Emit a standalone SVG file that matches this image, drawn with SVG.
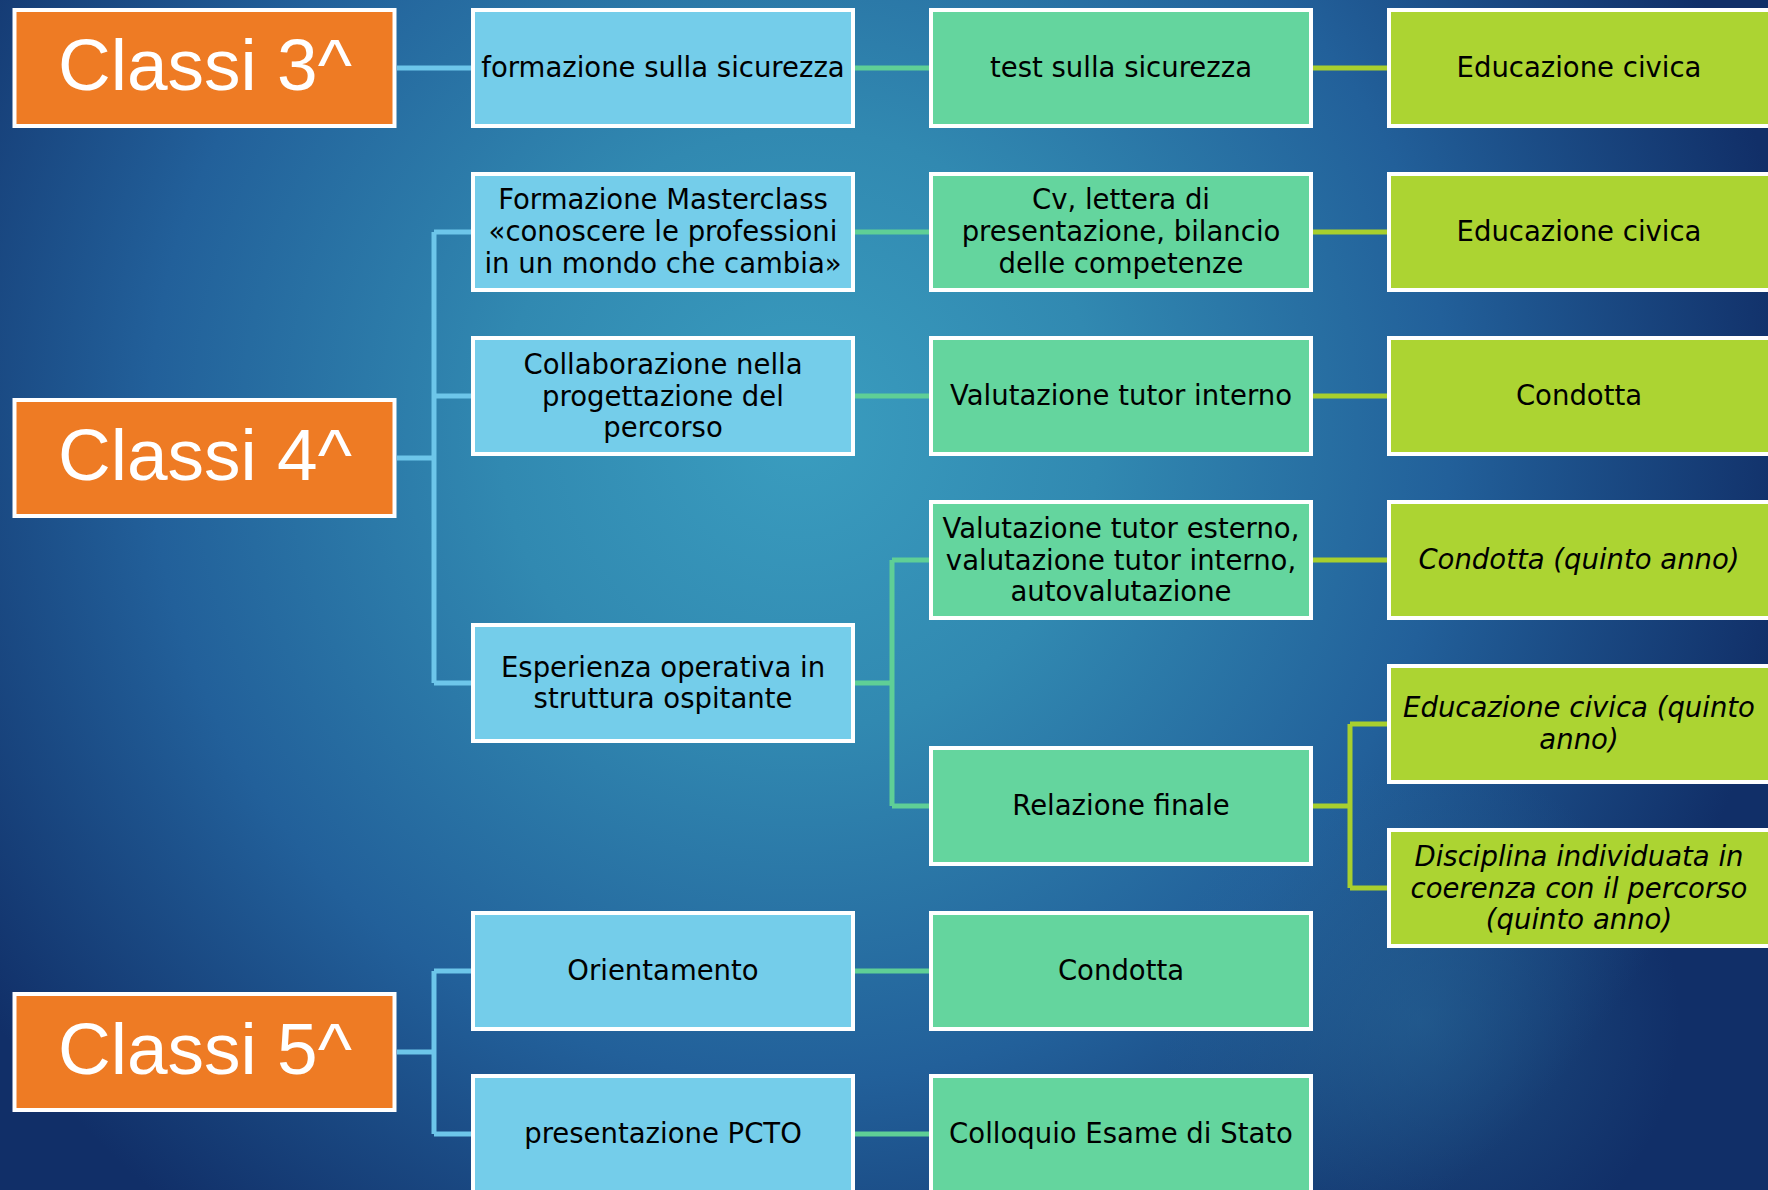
<svg xmlns="http://www.w3.org/2000/svg" width="1768" height="1190" viewBox="0 0 1768 1190">
<defs>
<radialGradient id="bg" cx="800" cy="430" r="1000" gradientUnits="userSpaceOnUse">
<stop offset="0" stop-color="#3a9dbf"/>
<stop offset="0.3" stop-color="#3189b1"/>
<stop offset="0.65" stop-color="#22609a"/>
<stop offset="1" stop-color="#112f68"/>
</radialGradient>
<radialGradient id="spot" cx="1420" cy="1020" r="260" gradientUnits="userSpaceOnUse">
<stop offset="0" stop-color="#2a6d9c" stop-opacity="0.5"/>
<stop offset="1" stop-color="#2a6d9c" stop-opacity="0"/>
</radialGradient>
<style>
.box{stroke:#ffffff;stroke-width:4}
.or{fill:#ee7b24}
.bl{fill:#74cdea}
.gr{fill:#64d59e}
.yg{fill:#acd432}
.t{font-family:"DejaVu Sans","Liberation Sans",sans-serif;font-size:27.5px;fill:#000;text-anchor:middle}
.it{font-style:italic}
.big{font-family:"Liberation Sans","DejaVu Sans",sans-serif;font-size:73px;fill:#fff;text-anchor:middle}
.cb{stroke:#6dc6ea;stroke-width:5;fill:none}
.cg{stroke:#5fcf96;stroke-width:5;fill:none}
.cy{stroke:#a8cf2e;stroke-width:5;fill:none}
</style>
</defs>
<rect x="0" y="0" width="1768" height="1190" fill="url(#bg)"/>
<rect x="0" y="0" width="1768" height="1190" fill="url(#spot)"/>

<g id="connectors">
<path class="cb" d="M397 68H471"/>
<path class="cb" d="M397 458H434M434 232V683M434 232H471M434 396H471M434 683H471"/>
<path class="cb" d="M397 1052H434M434 971V1134M434 971H471M434 1134H471"/>
<path class="cg" d="M855 68H929M855 232H929M855 396H929M855 971H929M855 1134H929"/>
<path class="cg" d="M855 683H892M892 560V806M892 560H929M892 806H929"/>
<path class="cy" d="M1313 68H1387M1313 232H1387M1313 396H1387M1313 560H1387"/>
<path class="cy" d="M1313 806H1350M1350 724V888M1350 724H1387M1350 888H1387"/>
</g>

<g id="classi3"><rect class="box or" x="14.5" y="10" width="380" height="116"/><text class="big" x="205" y="90">Classi 3^</text></g>
<g id="classi4"><rect class="box or" x="14.5" y="400" width="380" height="116"/><text class="big" x="205" y="480">Classi 4^</text></g>
<g id="classi5"><rect class="box or" x="14.5" y="994" width="380" height="116"/><text class="big" x="205" y="1074">Classi 5^</text></g>

<g id="formazione-sicurezza"><rect class="box bl" x="473" y="10" width="380" height="116"/><text class="t" x="663" y="77">formazione sulla sicurezza</text></g>
<g id="masterclass"><rect class="box bl" x="473" y="174" width="380" height="116"/><text class="t" x="663"><tspan x="663" y="209">Formazione Masterclass</tspan><tspan x="663" y="241">«conoscere le professioni</tspan><tspan x="663" y="273">in un mondo che cambia»</tspan></text></g>
<g id="collaborazione"><rect class="box bl" x="473" y="338" width="380" height="116"/><text class="t" x="663"><tspan x="663" y="374">Collaborazione nella</tspan><tspan x="663" y="405.5">progettazione del</tspan><tspan x="663" y="437">percorso</tspan></text></g>
<g id="esperienza"><rect class="box bl" x="473" y="625" width="380" height="116"/><text class="t" x="663"><tspan x="663" y="676.5">Esperienza operativa in</tspan><tspan x="663" y="708">struttura ospitante</tspan></text></g>
<g id="orientamento"><rect class="box bl" x="473" y="913" width="380" height="116"/><text class="t" x="663" y="980">Orientamento</text></g>
<g id="presentazione"><rect class="box bl" x="473" y="1076" width="380" height="116"/><text class="t" x="663" y="1143">presentazione PCTO</text></g>

<g id="test-sicurezza"><rect class="box gr" x="931" y="10" width="380" height="116"/><text class="t" x="1121" y="77">test sulla sicurezza</text></g>
<g id="cv"><rect class="box gr" x="931" y="174" width="380" height="116"/><text class="t" x="1121"><tspan x="1121" y="209">Cv, lettera di</tspan><tspan x="1121" y="241">presentazione, bilancio</tspan><tspan x="1121" y="273">delle competenze</tspan></text></g>
<g id="valutazione-interno"><rect class="box gr" x="931" y="338" width="380" height="116"/><text class="t" x="1121" y="405">Valutazione tutor interno</text></g>
<g id="valutazione-esterno"><rect class="box gr" x="931" y="502" width="380" height="116"/><text class="t" x="1121"><tspan x="1121" y="538">Valutazione tutor esterno,</tspan><tspan x="1121" y="569.5">valutazione tutor interno,</tspan><tspan x="1121" y="601">autovalutazione</tspan></text></g>
<g id="relazione"><rect class="box gr" x="931" y="748" width="380" height="116"/><text class="t" x="1121" y="815">Relazione finale</text></g>
<g id="condotta-5"><rect class="box gr" x="931" y="913" width="380" height="116"/><text class="t" x="1121" y="980">Condotta</text></g>
<g id="colloquio"><rect class="box gr" x="931" y="1076" width="380" height="116"/><text class="t" x="1121" y="1143">Colloquio Esame di Stato</text></g>

<g id="edciv-1"><rect class="box yg" x="1389" y="10" width="384" height="116"/><text class="t" x="1579" y="77">Educazione civica</text></g>
<g id="edciv-2"><rect class="box yg" x="1389" y="174" width="384" height="116"/><text class="t" x="1579" y="241">Educazione civica</text></g>
<g id="condotta-4"><rect class="box yg" x="1389" y="338" width="384" height="116"/><text class="t" x="1579" y="405">Condotta</text></g>
<g id="condotta-quinto"><rect class="box yg" x="1389" y="502" width="384" height="116"/><text class="t it" x="1579" y="569">Condotta (quinto anno)</text></g>
<g id="edciv-quinto"><rect class="box yg" x="1389" y="666" width="384" height="116"/><text class="t it" x="1579"><tspan x="1579" y="717">Educazione civica (quinto</tspan><tspan x="1579" y="749">anno)</tspan></text></g>
<g id="disciplina"><rect class="box yg" x="1389" y="830" width="384" height="116"/><text class="t it" x="1579"><tspan x="1579" y="866">Disciplina individuata in</tspan><tspan x="1579" y="897.5">coerenza con il percorso</tspan><tspan x="1579" y="929">(quinto anno)</tspan></text></g>
</svg>
